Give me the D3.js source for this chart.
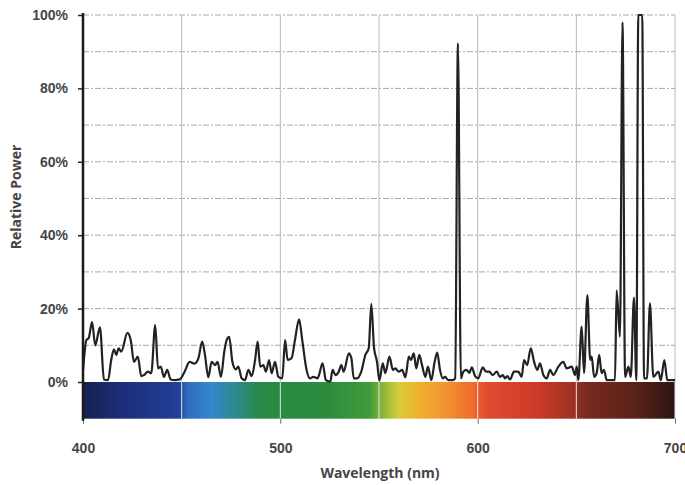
<!DOCTYPE html>
<html>
<head>
<meta charset="utf-8">
<script src="https://cdn.jsdelivr.net/npm/d3@7"></script>
<style>
body{margin:0;background:#fff;}
svg{display:block;font-family:"Open Sans",sans-serif;}
</style>
</head>
<body>
<svg id="grafico" width="685" height="485"></svg>
<script>

//DATI

var lunghezzeOnda = [400, 401.7, 402.9, 404.6, 406.2, 408.6, 410.6, 412.7, 414.3, 415.7, 416.9, 418.1, 419.4, 422.5, 424.2, 425.8, 427.8, 429.5, 430.9, 432.9, 434.6, 436.6, 438, 439.4, 441, 442.7, 444.4, 446.4, 449, 451.5, 454, 456.5, 458.5, 460.4, 461.8, 463.5, 465.2, 466.9, 468.2, 469.9, 471.6, 472.8, 474.1, 475.7, 477.4, 478.7, 480.4, 482.1, 483.8, 485.5, 487.2, 488.5, 489.8, 491.4, 492.7, 494.3, 495.6, 497.3, 499, 501, 502.4, 503.7, 505.7, 507.4, 509.5, 511.1, 513.3, 515, 516.7, 518.9, 519.6, 521.4, 523.1, 525.3, 526.5, 527.9, 529.6, 530.9, 532.1, 534.7, 536, 537.2, 538.9, 541, 543.1, 544.8, 546.1, 547.5, 549, 550.2, 551.9, 553.2, 555.3, 557, 558.3, 560, 561.7, 563.4, 565.1, 566.2, 567.6, 568.9, 570.4, 571.8, 573.5, 574.8, 576.5, 578.2, 579.5, 580.9, 582.3, 583.5, 585.1, 587.3, 588.6, 590, 591.5, 592.7, 594.4, 595.8, 597, 598.7, 600.3, 602.6, 604.2, 605.9, 607.6, 609.7, 611.3, 612.7, 613.9, 615, 616.4, 618.4, 620.6, 622.3, 623.5, 625.1, 626.9, 628.6, 630.2, 631.6, 633.3, 635, 636.7, 638.3, 640.9, 643.4, 645.1, 647.7, 649.3, 650.2, 651, 652.7, 653.9, 655.6, 657, 657.8, 659, 660.3, 661.6, 662.8, 664, 665.4, 669.6, 670.4, 672.1, 673.4, 674.7, 676.4, 677.6, 679.2, 680.4, 681.4, 683.4, 684.3, 685.8, 687.3, 689, 691.6, 692.8, 694.6, 696.1, 700];

var potenzaRelativa = [3, 11.4, 12, 16.3, 10, 14.9, 0.7, 0.5, 6, 8.9, 7.4, 9.2, 8.3, 13.4, 11.4, 5.5, 6.9, 1.6, 1.9, 2.8, 2.4, 15.5, 3.7, 4.2, 1.4, 3.3, 0.7, 0.5, 0.7, 2.8, 5.5, 5, 6.5, 11, 7.4, 1.3, 5.5, 4.6, 5.5, 1.4, 8.3, 11.4, 12.3, 5.5, 3.4, 4.2, 1, 0.5, 3.3, 1.6, 6, 11, 4.2, 4.6, 2.8, 6, 2.4, 5.5, 1.4, 1, 11.4, 6, 6.5, 11.4, 17.1, 11.4, 3.3, 1, 1.4, 1, 1.9, 5.1, 0.5, 0.1, 3.3, 1.9, 2.8, 4.6, 2.8, 7.8, 6.5, 1, 1, 2.8, 7.4, 9.2, 21.3, 9.2, 5.5, 0.4, 5.1, 2.4, 6.9, 3.3, 3.7, 2.8, 3.3, 1.3, 6.9, 6, 7.8, 3.7, 7.4, 4.6, 1.4, 4.2, 0.5, 5.5, 8, 3.3, 1, 1.4, 0.5, 0.5, 1, 92.3, 1, 2.8, 3.3, 2.5, 4, 1.6, 1, 4, 2.8, 2.8, 1.9, 2.8, 1.4, 1.9, 1, 1.6, 0.7, 2.8, 2.8, 1.4, 6, 4.6, 9.2, 5.5, 3.3, 5.1, 1.9, 1, 3.3, 1.9, 4.2, 5.5, 3.7, 4.2, 1.9, 4.2, 0.5, 15.1, 2.4, 23.7, 6, 6.9, 1.4, 2.4, 7.4, 2.4, 3.3, 0.5, 0.5, 25, 12.3, 98, 1.4, 4.2, 1.4, 23, 0.5, 100, 100, 1, 1, 21.4, 1.4, 2.8, 0.5, 6, 0.5, 0.5];

var tickX = [400, 500, 600, 700];
var tickY = [0, 20, 40, 60, 80, 100];
var grigliaX = [450, 500, 550, 600, 650, 700];
var grigliaY = [10, 20, 30, 40, 50, 60, 70, 80, 90, 100];

var bandaNm = [400, 420, 445, 449, 453, 465, 478, 490, 520, 545, 552, 560, 570, 585, 598, 605, 630, 648, 655, 680, 700];
var bandaColori = ["#15204f", "#1c2f7c", "#203d92", "#22409a", "#2f6cc0", "#3388cc", "#2a8a8a", "#2a8a45", "#2a8a3e", "#3f9a3a", "#8ab63a", "#d8cc3a", "#f0b030", "#f29030", "#ee6a2a", "#e04a30", "#cc3a2a", "#9e3222", "#7a2a1e", "#5a221a", "#2a1512"];

//VARIABILI

var svg;
var margini = {sinistra: 83, destra: 675, alto: 15, basso: 418.7};
var scalaX;
var scalaY;
var coloreTesto = "#454545";

//FUNZIONI

function inizializzazione(){

    svg = d3.select("#grafico");

    scalaX = d3.scaleLinear()
        .domain([400, 700])
        .range([margini.sinistra, margini.destra]);

    scalaY = d3.scaleLinear()
        .domain([-10, 100])
        .range([margini.basso, margini.alto]);

    disegnaBanda();
    disegnaGriglia();
    disegnaSpettro();
    disegnaAssi();

}

function disegnaBanda(){

    var gradiente = svg.append("defs")
        .append("linearGradient")
        .attr("id", "spettroColori")
        .attr("x1", "0%")
        .attr("x2", "100%");

    gradiente.selectAll("stop")
        .data(bandaNm)
        .enter()
        .append("stop")
        .attr("offset", d => ((d - 400) / 300 * 100) + "%")
        .attr("stop-color", (d, i) => bandaColori[i]);

    svg.append("rect")
        .attr("x", scalaX(400))
        .attr("y", scalaY(0))
        .attr("width", scalaX(700) - scalaX(400))
        .attr("height", scalaY(-10) - scalaY(0))
        .attr("fill", "url(#spettroColori)");

}

function disegnaGriglia(){

    svg.append("g").selectAll("line")
        .data(grigliaY)
        .enter()
        .append("line")
        .attr("x1", scalaX(400))
        .attr("x2", scalaX(700))
        .attr("y1", d => scalaY(d))
        .attr("y2", d => scalaY(d))
        .attr("stroke", "#a9a9a9")
        .attr("stroke-width", 1)
        .attr("stroke-dasharray", "6,2,2,2");

    svg.append("g").selectAll("line")
        .data(grigliaX)
        .enter()
        .append("line")
        .attr("x1", d => scalaX(d))
        .attr("x2", d => scalaX(d))
        .attr("y1", scalaY(100))
        .attr("y2", scalaY(0))
        .attr("stroke", "#b8b8b8")
        .attr("stroke-width", 1);

    // sopra la banda colorata le linee sono chiare
    svg.append("g").selectAll("line")
        .data(grigliaX)
        .enter()
        .append("line")
        .attr("x1", d => scalaX(d))
        .attr("x2", d => scalaX(d))
        .attr("y1", scalaY(0))
        .attr("y2", scalaY(-10))
        .attr("stroke", "#e4e4e4")
        .attr("stroke-width", 1);

}

function disegnaSpettro(){

    var punti = lunghezzeOnda.map((d, i) => [d, potenzaRelativa[i]]);

    var linea = d3.line()
        .x(d => scalaX(d[0]))
        .y(d => scalaY(d[1]))
        .curve(d3.curveMonotoneX);

    svg.append("path")
        .datum(punti)
        .attr("d", linea)
        .attr("fill", "none")
        .attr("stroke", "#222")
        .attr("stroke-width", 2.2)
        .attr("stroke-linejoin", "round");

}

function disegnaAssi(){

    var assex = svg.append("g")
        .attr("transform", "translate(0," + margini.basso + ")")
        .call(d3.axisBottom(scalaX).tickValues(tickX).tickSize(5).tickPadding(19));

    assex.select(".domain").remove();
    assex.selectAll("line").attr("stroke", "#666");
    assex.selectAll("text")
        .attr("fill", coloreTesto)
        .style("font-size", "14px")
        .style("font-weight", "bold");

    var assey = svg.append("g")
        .attr("transform", "translate(" + margini.sinistra + ",0)")
        .call(d3.axisLeft(scalaY).tickValues(tickY).tickSize(5).tickPadding(10).tickFormat(d => d + "%"));

    assey.select(".domain").remove();
    assey.selectAll("line").attr("stroke", "#222").attr("stroke-width", 1.5);
    assey.selectAll("text")
        .attr("fill", coloreTesto)
        .style("font-size", "14px")
        .style("font-weight", "bold");

    svg.append("line")
        .attr("x1", margini.sinistra)
        .attr("x2", margini.sinistra)
        .attr("y1", margini.alto - 2)
        .attr("y2", margini.basso + 2)
        .attr("stroke", "#1a1a1a")
        .attr("stroke-width", 2.5);

    svg.append("text")
        .attr("x", 380)
        .attr("y", 478)
        .attr("text-anchor", "middle")
        .attr("fill", coloreTesto)
        .style("font-size", "14px")
        .style("font-weight", "bold")
        .text("Wavelength (nm)");

    svg.append("text")
        .attr("transform", "translate(21,197) rotate(-90)")
        .attr("text-anchor", "middle")
        .attr("fill", coloreTesto)
        .style("font-size", "14px")
        .style("font-weight", "bold")
        .text("Relative Power");

}

inizializzazione();

</script>
</body>
</html>
